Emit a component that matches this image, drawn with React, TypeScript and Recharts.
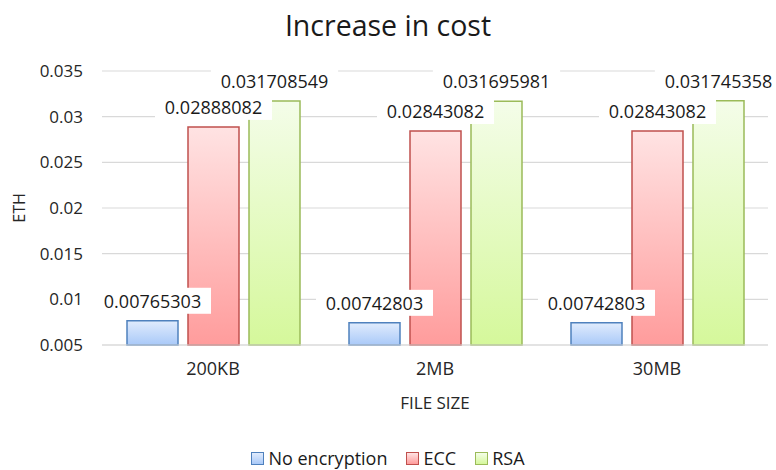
import { Bar, BarChart, CartesianGrid, LabelList, XAxis, YAxis } from 'recharts'

const categories = ['200KB', '2MB', '30MB']
const noEncryption = [0.00765303, 0.00742803, 0.00742803]
const ecc = [0.02888082, 0.02843082, 0.02843082]
const rsa = [0.031708549, 0.031695981, 0.031745358]
const yTicks = [0.005, 0.01, 0.015, 0.02, 0.025, 0.03, 0.035]
const yTickLabels = ['0.005', '0.01', '0.015', '0.02', '0.025', '0.03', '0.035']

const data = categories.map((name, i) => ({
    name,
    none: noEncryption[i],
    ecc: ecc[i],
    rsa: rsa[i]
}))

const series = [
    { key: 'none', name: 'No encryption', stroke: '#4f81bd', top: '#e1ecfd', bottom: '#a9c9f8' },
    { key: 'ecc', name: 'ECC', stroke: '#c0504d', top: '#ffe3e3', bottom: '#ff9c9c' },
    { key: 'rsa', name: 'RSA', stroke: '#9bbb59', top: '#f4fde9', bottom: '#d5f89b' }
]

const FONT = '"Open Sans", Lato, sans-serif'

// white box label sitting above each bar
const ValueLabel = (props: any) => {
    const { x, y, width, value } = props
    const text = String(value)
    const cx = x + width / 2
    const w = text.length * 10.3 + 14
    return (
        <g>
            <rect x={cx - w / 2} y={y - 33} width={w} height={26} fill="#ffffff" />
            <text x={cx} y={y - 20} textAnchor="middle" dominantBaseline="central" fontSize={18} fill="#1a1a1a" fontFamily={FONT}>
                {text}
            </text>
        </g>
    )
}

export default function App() {
    return (
        <div style={{ position: 'absolute', left: 0, top: 0, width: 776, height: 470, background: '#fff', fontFamily: FONT }}>
            <div style={{ position: 'absolute', top: 6, left: 0, width: 776, textAlign: 'center', fontSize: 28.5, lineHeight: '38px', color: '#1a1a1a' }}>
                Increase in cost
            </div>
            <BarChart width={776} height={470} data={data} margin={{ top: 71, right: 8, left: 0, bottom: 60 }} barSize={51} barGap={10}>
                <defs>
                    {series.map(s => (
                        <linearGradient key={s.key} id={'grad-' + s.key} x1="0" y1="0" x2="0" y2="1">
                            <stop offset="0%" stopColor={s.top} />
                            <stop offset="100%" stopColor={s.bottom} />
                        </linearGradient>
                    ))}
                </defs>
                <CartesianGrid vertical={false} stroke="#d9d9d9" strokeWidth={1.2} />
                <XAxis
                    dataKey="name"
                    height={65}
                    tickLine={false}
                    tickSize={0}
                    tickMargin={17}
                    axisLine={{ stroke: '#d9d9d9', strokeWidth: 1.2 }}
                    tick={{ fill: '#262626', fontSize: 18, fontFamily: FONT }}
                    label={{ value: 'FILE SIZE', position: 'insideBottom', offset: 1, fill: '#262626', fontSize: 17, fontFamily: FONT }}
                />
                <YAxis
                    width={102}
                    domain={[0.005, 0.035]}
                    ticks={yTicks}
                    tickFormatter={(v: number) => yTickLabels[yTicks.indexOf(v)] ?? String(v)}
                    tickLine={false}
                    tickSize={0}
                    tickMargin={19}
                    axisLine={false}
                    tick={{ fill: '#262626', fontSize: 17, fontFamily: FONT }}
                    label={{ value: 'ETH', angle: -90, position: 'insideLeft', offset: 19, textAnchor: 'middle', fill: '#262626', fontSize: 16, fontFamily: FONT }}
                />
                {series.map(s => (
                    <Bar
                        key={s.key}
                        dataKey={s.key}
                        name={s.name}
                        fill={`url(#grad-${s.key})`}
                        stroke={s.stroke}
                        strokeWidth={1.5}
                        isAnimationActive={false}
                    >
                        <LabelList dataKey={s.key} content={ValueLabel} />
                    </Bar>
                ))}
            </BarChart>
            <div
                style={{
                    position: 'absolute',
                    top: 450,
                    left: 0,
                    width: 776,
                    display: 'flex',
                    justifyContent: 'center',
                    gap: 19,
                    fontSize: 18,
                    lineHeight: '16px',
                    color: '#1a1a1a'
                }}
            >
                {series.map(s => (
                    <div key={s.key} style={{ display: 'flex', alignItems: 'center', gap: 4 }}>
                        <span
                            style={{
                                display: 'inline-block',
                                width: 11,
                                height: 11,
                                border: `1.5px solid ${s.stroke}`,
                                background: `linear-gradient(${s.top}, ${s.bottom})`
                            }}
                        />
                        <span>{s.name}</span>
                    </div>
                ))}
            </div>
        </div>
    )
}
